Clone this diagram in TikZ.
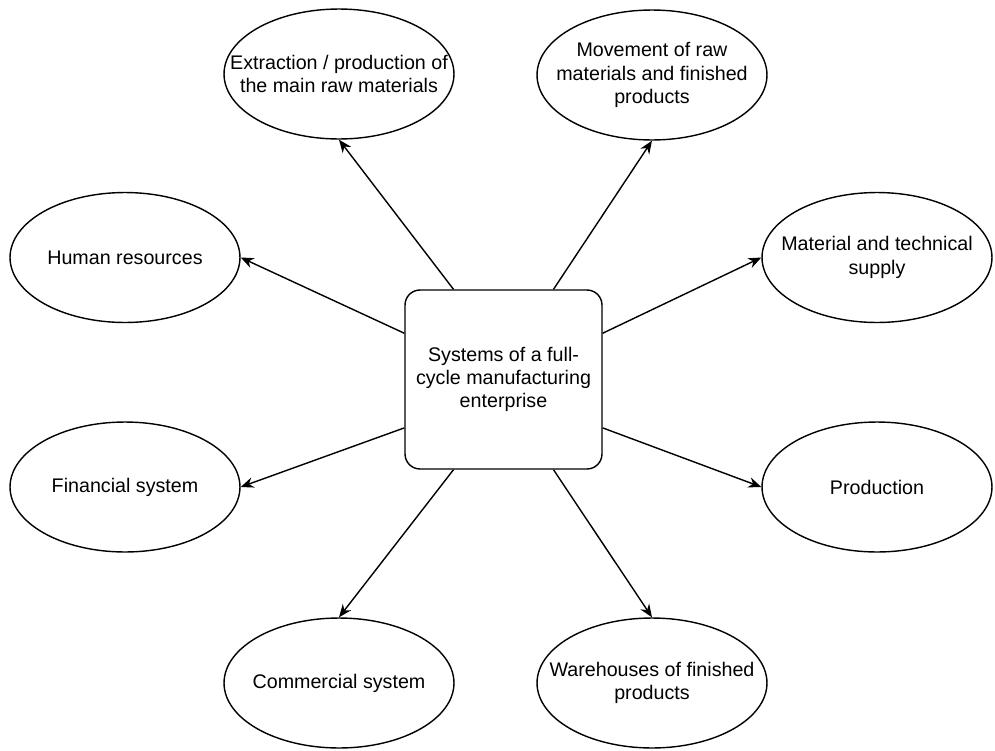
\documentclass[tikz,border=0pt]{standalone}
\usepackage{fontspec}
\setmainfont{Liberation Sans}
\usetikzlibrary{shapes.geometric, arrows.meta}

\begin{document}
\begin{tikzpicture}[x=0.02cm, y=-0.02cm, thick, >={Stealth[length=2.6mm, width=2.1mm]},
    font=\fontsize{11.2}{13.2}\selectfont,
    sys/.style={shape=ellipse, draw, minimum width=4.6cm, minimum height=2.6cm, align=center, inner xsep=-1cm, inner ysep=0pt},
    core/.style={shape=rectangle, draw, rounded corners=0.3cm, minimum width=3.94cm, minimum height=3.58cm, align=center}]
    \useasboundingbox (0, 0) rectangle (995, 751);
    \node[core] at (503.5, 379.5) (core) {Systems of a full-\\cycle manufacturing\\enterprise};
    \node[sys] at (339, 74) (extr) {Extraction / production of\\the main raw materials};
    \node[sys] at (652, 75) (move) {Movement of raw\\materials and finished\\products};
    \node[sys] at (125, 257.5) (hr) {Human resources};
    \node[sys] at (877, 257.5) (supply) {Material and technical\\supply};
    \node[sys] at (125, 487) (fin) {Financial system};
    \node[sys] at (877, 487) (prod) {Production};
    \node[sys] at (339, 683) (comm) {Commercial system};
    \node[sys] at (652, 683) (store) {Warehouses of finished\\products};
    \draw[->] (core.119) -- (extr.south);
    \draw[->] (core.61) -- (move.south);
    \draw[->] (core.155) -- (hr.east);
    \draw[->] (core.25) -- (supply.west);
    \draw[->] (core.206) -- (fin.east);
    \draw[->] (core.334) -- (prod.west);
    \draw[->] (core.241) -- (comm.north);
    \draw[->] (core.299) -- (store.north);
\end{tikzpicture}
\end{document}
